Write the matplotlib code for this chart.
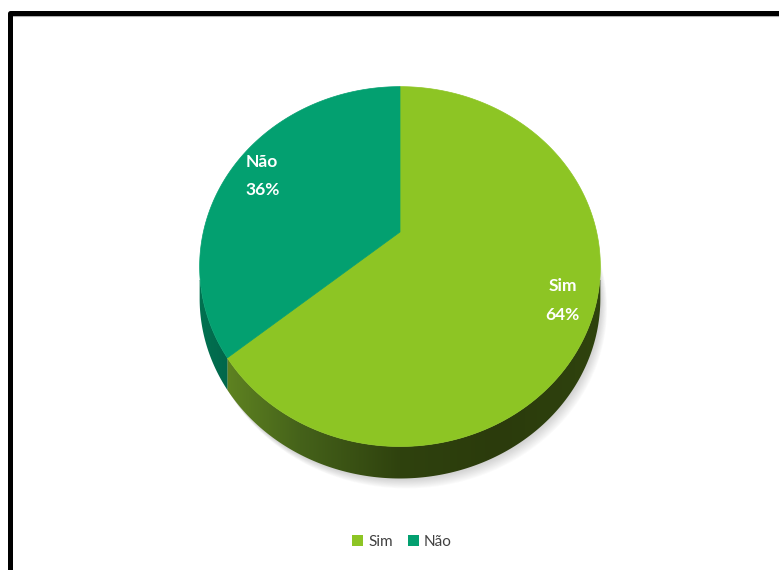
import numpy as np
import matplotlib.pyplot as plt
from matplotlib.colors import to_rgb
from matplotlib.patches import Polygon, Patch

# data
labels = ["Sim", "Não"]
values = [64, 36]
top_colors = ["#8dc524", "#03a070"]
side_colors = [["#5e8221", "#45621a", "#2f420e", "#2b3b0c", "#2f430e"], ["#027552", "#01654a"]]

# pie geometry (pixels) and a simple perspective camera
cx, cy = 400, 232
focal = 483.7
cam_dist = 2.46
elev = np.radians(61.8)
drop_px = 32

W, H = 779, 570
fig = plt.figure(figsize=(W / 100, H / 100), dpi=100)
ax = fig.add_axes([0, 0, 1, 1])
ax.set_xlim(0, W)
ax.set_ylim(H, 0)
ax.axis("off")


def proj(theta_deg, drop=0.0, r=1.0):
    t = np.radians(theta_deg)
    x, z = r * np.cos(t), r * np.sin(t)
    depth = cam_dist + z * np.cos(elev)
    sx = cx + focal * x / depth
    sy = cy - focal * z * np.sin(elev) / depth + drop
    return sx, sy


def arc(a0, a1, drop=0.0, n=200):
    th = np.linspace(a0, a1, n)
    sx, sy = proj(th, drop)
    return np.column_stack([sx, sy])


# slice angle ranges: start at 12 o'clock, clockwise
total = sum(values)
bounds = []
start = 90.0
for v in values:
    end = start - v / total * 360.0
    bounds.append((end, start))
    start = end

# visible front part of the rim (between leftmost and rightmost silhouette points)
t_edge = np.degrees(np.arcsin(np.cos(elev) / cam_dist))
vis_lo, vis_hi = -180 + t_edge, -t_edge

# soft shadow under the pie
for k in range(1, 12):
    pts = arc(0, 360, drop_px + k * 0.9, n=300)
    pts[:, 0] += k * 0.6
    ax.add_patch(Polygon(pts, closed=True, facecolor="#7a7a7a", edgecolor="none",
                         alpha=0.03, zorder=1))

# side walls, shaded left to right
for i, (lo, hi) in enumerate(bounds):
    for shift in (-360, 0, 360):
        a0, a1 = max(lo + shift, vis_lo), min(hi + shift, vis_hi)
        if a1 <= a0:
            continue
        top = arc(a0, a1)
        bottom = arc(a0, a1, drop_px)[::-1]
        poly = Polygon(np.vstack([top, bottom]), closed=True, facecolor="none",
                       edgecolor="none", zorder=2)
        ax.add_patch(poly)
        cols = [np.array(to_rgb(c)) for c in side_colors[i]]
        if i == 0:
            xs = np.interp([228, 300, 400, 500, 600], [190, 610], [0, 1])
        else:
            xs = np.linspace(0, 0.1, len(cols))
        grad_x = np.linspace(0, 1, 400)
        rgb = np.stack([np.interp(grad_x, xs, [c[j] for c in cols]) for j in range(3)], axis=-1)
        img = np.tile(rgb[None, :, :], (10, 1, 1))
        im = ax.imshow(img, extent=[190, 610, 500, 280], aspect="auto",
                       interpolation="bilinear", zorder=2)
        im.set_clip_path(poly)

# top faces
for i, (lo, hi) in enumerate(bounds):
    pts = np.vstack([[[cx, cy]], arc(hi, lo)])
    ax.add_patch(Polygon(pts, closed=True, facecolor=top_colors[i],
                         edgecolor=top_colors[i], linewidth=0.5, zorder=3))

# data labels
for i, (lo, hi) in enumerate(bounds):
    lx, ly = proj((lo + hi) / 2, r=0.84)
    ax.text(lx + 2, ly + 2, f"{labels[i]}\n{values[i]}%", color="white", fontsize=12.5,
            fontweight="bold", family="Lato", ha="center", va="center",
            linespacing=1.95, zorder=5)

ax.set_xlim(0, W)
ax.set_ylim(H, 0)

# frame (top and left edges only are visible)
ax.plot([13, W], [16, 16], color="#b0b0b0", lw=0.8, zorder=6)
ax.plot([10.5, 10.5, W + 5], [H + 5, 12.5, 12.5], color="black", lw=3.6,
        solid_joinstyle="round", solid_capstyle="butt", zorder=7)

handles = [Patch(facecolor=c, edgecolor="none") for c in top_colors]
fig.legend(handles, labels, loc="center", bbox_to_anchor=(0.516, 1 - 542 / H),
           ncol=2, frameon=False, handlelength=0.75, handleheight=0.75,
           handletextpad=0.3, columnspacing=1.0,
           prop={"family": "Lato", "size": 11}, labelcolor="#404040")

fig.savefig("out.png", dpi=100)
